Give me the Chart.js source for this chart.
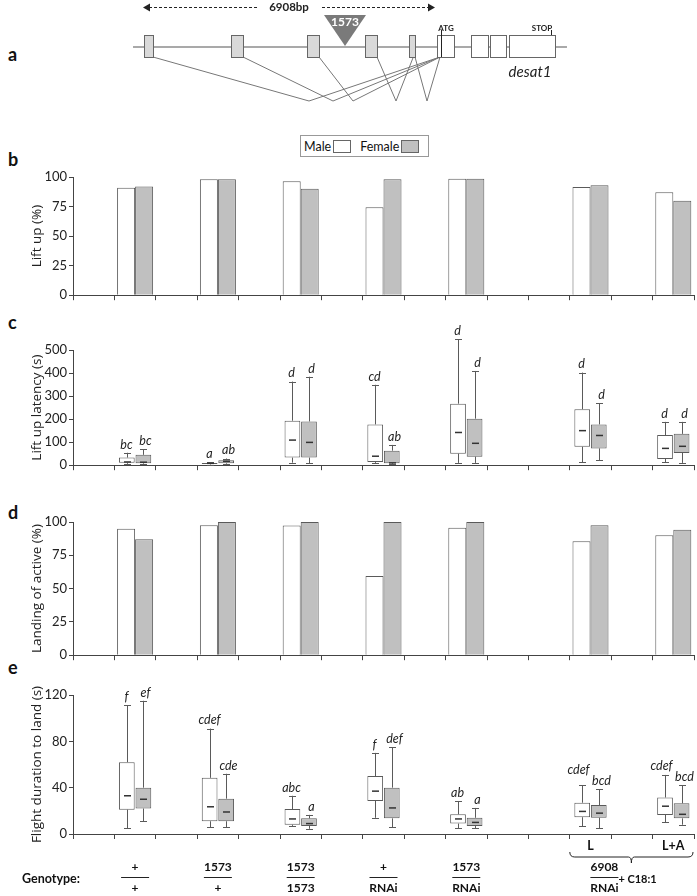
<!DOCTYPE html>
<html>
<head>
<meta charset="utf-8">
<script src="https://cdn.jsdelivr.net/npm/chart.js@4.4.1/dist/chart.umd.min.js"></script>
<style>
  body { margin: 0; background: #fff; }
  #wrap { position: relative; width: 697px; height: 896px; overflow: hidden; font-family: Lato, "Open Sans", sans-serif; color: #111; }
  #wrap canvas { position: absolute; left: 0; }
  .letter { position: absolute; font: bold 18px Lato, sans-serif; line-height: 20px; }
  #legend { position: absolute; left: 300px; top: 135px; width: 129px; height: 22px; border: 1px solid #999;
            font: 12.5px Lato, sans-serif; display: flex; align-items: center; box-sizing: border-box; padding-left: 3px; }
  #legend .sw { display: inline-block; width: 18px; height: 13px; border: 1px solid #666; margin-left: 2px; box-sizing: border-box; }
</style>
</head>
<body>
<div id="wrap">
  <div class="letter" style="left:8px;top:44px">a</div>
  <div class="letter" style="left:8px;top:149px">b</div>
  <div class="letter" style="left:8px;top:312px">c</div>
  <div class="letter" style="left:8px;top:502px">d</div>
  <div class="letter" style="left:8px;top:657px">e</div>
  <div id="legend">Male<span class="sw" style="background:#fff"></span><span style="margin-left:9px">Female</span><span class="sw" style="background:#c0c0c0"></span></div>
</div>
<script>
/* ---- data ---- */
// 15 category slots on the x axis, genotypes sit in these ones
const slotCount = 15;
const groupSlots = [1, 3, 5, 7, 9, 12, 14];
const genotypeTop = ["+", "1573", "1573", "+", "1573"];
const genotypeBottom = ["+", "+", "1573", "RNAi", "RNAi"];
const treatments = ["L", "L+A"];

// b: lift up (%)
const liftUpMale = [91, 98, 96.5, 74.5, 98.5, 91.5, 87];
const liftUpFemale = [92, 98, 90, 98, 98.5, 93, 80];

// c: lift up latency (s)  [min, q1, median, q3, max]
const latencyMale = [
  [6, 11, 14, 33, 54], [3, 5, 8, 10, 12], [11, 33, 109, 193, 363], [10, 14, 39, 177, 349],
  [10, 50, 142, 267, 546], [12, 80, 150, 243, 402], [12, 27, 73, 131, 188]
];
const latencyFemale = [
  [5, 8, 13, 45, 70], [5, 8, 17, 22, 29], [8, 33, 99, 190, 384], [5, 8, 10, 63, 88],
  [10, 37, 95, 202, 409], [22, 73, 129, 177, 270], [10, 53, 82, 136, 188]
];
const latencyMaleSig = ["bc", "a", "d", "cd", "d", "d", "d"];
const latencyFemaleSig = ["bc", "ab", "d", "ab", "d", "d", "d"];

// d: landing of active (%)
const landingMale = [95, 97.5, 97.3, 59.5, 95.6, 85.5, 90];
const landingFemale = [87, 100, 100, 100, 100, 97.6, 94.2];

// e: flight duration to land (s)  [min, q1, median, q3, max]
const flightMale = [
  [5, 21, 33, 62, 111], [6, 11, 23.5, 48.5, 91], [7, 8, 13, 21.5, 33], [14, 28.5, 37, 50, 70],
  [5, 9, 13, 17, 28.5], [6.5, 14.5, 19.5, 27, 42], [10, 16.5, 24, 31.5, 51]
];
const flightFemale = [
  [11, 22, 30, 40, 115], [6, 11, 19, 30.5, 52], [4.5, 7, 9, 13.5, 16.5], [6, 13.5, 22.5, 40, 75],
  [5, 7, 10, 14, 22.5], [5, 14, 18, 25, 38.5], [8, 13.5, 17, 26.5, 42]
];
const flightMaleSig = ["f", "cdef", "abc", "f", "ab", "cdef", "cdef"];
const flightFemaleSig = ["ef", "cde", "a", "def", "a", "bcd", "bcd"];

// a: gene model, positions in bp
const geneSpan = [0, 10268];
const nonCodingExons = [[260, 473], [2319, 2603], [4117, 4401], [5489, 5773], [6530, 6672]];
const codingExons = [[7193, 7595], [7997, 8399], [8447, 8825], [8896, 9985]];
const spliceDonor = [473, 2603, 4401, 5773, 6672];
const spliceLow = [4164, 4732, 5205, 6223, 6956];
const spliceAcceptor = [7264, 7264, 7264, 6632, 7264];
const deletionRange = [237, 7145];
const insertionAt = 5016;
const atgAt = 7287;
const stopAt = 9890;

/* ---- setup ---- */
Chart.defaults.font.family = "Lato, 'Open Sans', sans-serif";
Chart.defaults.color = "#222";
Chart.defaults.animation = false;
Chart.defaults.plugins.legend.display = false;
Chart.defaults.plugins.tooltip.enabled = false;

const MALE = "#ffffff";
const FEMALE = "#c0c0c0";
const EDGE = "#5a5a5a";

const slotLabels = Array.from({ length: slotCount }, (_, i) => {
  const g = groupSlots.indexOf(i);
  return g < 0 ? "" : "g" + g;
});
const toSlots = (values) => {
  const out = new Array(slotCount).fill(null);
  groupSlots.forEach((s, i) => (out[s] = values[i]));
  return out;
};

const makeCanvas = (id, top, height) => {
  const c = document.createElement("canvas");
  c.id = id;
  c.width = 697;
  c.height = height;
  c.style.top = top + "px";
  c.style.width = "697px";
  c.style.height = height + "px";
  document.getElementById("wrap").appendChild(c);
  return c;
};

const axisScales = (xHeight, yMax, yStep, title) => ({
  x: {
    offset: true,
    grid: { display: true, drawOnChartArea: false, drawTicks: true, tickLength: 5, color: "#444", offset: true },
    border: { color: "#444" },
    ticks: { display: false },
    afterFit: (s) => { s.height = xHeight; },
  },
  y: {
    min: 0,
    max: yMax,
    grid: { display: true, drawOnChartArea: false, drawTicks: true, tickLength: 4, color: "#444" },
    border: { color: "#444" },
    ticks: { stepSize: yStep, padding: 2, font: { size: 13 }, color: "#222" },
    title: { display: true, text: title, font: { family: "'Open Sans', sans-serif", size: 13.5 }, color: "#222", padding: { top: 29, bottom: 0 } },
    afterFit: (s) => { s.width = 73; },
  },
});

/* box plot whiskers, medians and letters on top of the floating bars */
const boxWhiskers = {
  id: "boxWhiskers",
  afterDatasetsDraw(chart) {
    const ctx = chart.ctx;
    const y = chart.scales.y;
    const labels = [];
    chart.data.datasets.forEach((ds, di) => {
      const meta = chart.getDatasetMeta(di);
      meta.data.forEach((bar, j) => {
        const st = ds.stats[j];
        if (!st) return;
        const [mn, q1, md, q3, mx] = st;
        const x = Math.round(bar.x) + 0.5;
        ctx.save();
        ctx.strokeStyle = EDGE;
        ctx.lineWidth = 1;
        ctx.beginPath();
        ctx.moveTo(x, y.getPixelForValue(q3));
        ctx.lineTo(x, y.getPixelForValue(mx));
        ctx.moveTo(x, y.getPixelForValue(q1));
        ctx.lineTo(x, y.getPixelForValue(mn));
        ctx.moveTo(x - 3.5, Math.round(y.getPixelForValue(mx)) + 0.5);
        ctx.lineTo(x + 3.5, Math.round(y.getPixelForValue(mx)) + 0.5);
        ctx.moveTo(x - 3.5, Math.round(y.getPixelForValue(mn)) + 0.5);
        ctx.lineTo(x + 3.5, Math.round(y.getPixelForValue(mn)) + 0.5);
        ctx.stroke();
        ctx.strokeStyle = "#333";
        ctx.lineWidth = 1.5;
        ctx.beginPath();
        ctx.moveTo(x - 3.5, y.getPixelForValue(md));
        ctx.lineTo(x + 3.5, y.getPixelForValue(md));
        ctx.stroke();
        ctx.restore();
        labels[j] = labels[j] || [];
        labels[j][di] = { text: ds.sig[j], x: x + (di === 0 ? -1 : 2), y: y.getPixelForValue(mx) - 2 };
      });
    });
    ctx.save();
    ctx.fillStyle = "#222";
    ctx.font = "italic 12.5px Lato, sans-serif";
    ctx.textAlign = "center";
    ctx.textBaseline = "bottom";
    labels.forEach((pair) => {
      if (!pair) return;
      const [m, f] = pair;
      const wm = ctx.measureText(m.text).width;
      const wf = ctx.measureText(f.text).width;
      // keep the male letters clear of the female ones
      if (m.x + wm / 2 > f.x - wf / 2 - 1 && Math.abs(m.y - f.y) < 12) {
        m.y = Math.min(m.y, f.y - 11);
        m.x -= 3;
      }
      ctx.fillText(m.text, m.x, m.y);
      ctx.fillText(f.text, f.x, f.y);
    });
    ctx.restore();
  },
};

const barPanel = (id, top, height, areaTop, areaBottom, male, female, yMax, yStep, title) => {
  new Chart(makeCanvas(id, top, height), {
    type: "bar",
    data: {
      labels: slotLabels,
      datasets: [
        { data: toSlots(male), backgroundColor: MALE, borderColor: EDGE, borderWidth: 1, categoryPercentage: 0.87, barPercentage: 1 },
        { data: toSlots(female), backgroundColor: FEMALE, borderColor: EDGE, borderWidth: 1, categoryPercentage: 0.87, barPercentage: 1 },
      ],
    },
    options: {
      responsive: false,
      devicePixelRatio: 1,
      layout: { padding: { top: areaTop - top, right: 3, left: 0, bottom: 0 } },
      scales: axisScales(top + height - areaBottom, yMax, yStep, title),
    },
  });
};

const boxPanel = (id, top, height, areaTop, areaBottom, male, female, maleSig, femaleSig, yMax, yStep, title, extra) => {
  const boxDs = (stats, sig, color) => ({
    data: toSlots(stats.map((s) => [s[1], s[3]])),
    stats: toSlots(stats),
    sig: toSlots(sig),
    backgroundColor: color,
    borderColor: EDGE,
    borderWidth: 1,
    borderSkipped: false,
    categoryPercentage: 0.8,
    barPercentage: 0.95,
  });
  new Chart(makeCanvas(id, top, height), {
    type: "bar",
    data: {
      labels: slotLabels,
      datasets: [boxDs(male, maleSig, MALE), boxDs(female, femaleSig, FEMALE)],
    },
    options: {
      responsive: false,
      devicePixelRatio: 1,
      layout: { padding: { top: areaTop - top, right: 3, left: 0, bottom: 0 } },
      scales: axisScales(top + height - areaBottom, yMax, yStep, title),
    },
    plugins: extra ? [boxWhiskers, extra] : [boxWhiskers],
  });
};

/* genotype labels under panel e, placed from the x scale */
const genotypeRow = {
  id: "genotypeRow",
  afterDraw(chart) {
    const ctx = chart.ctx;
    const x = chart.scales.x;
    const base = chart.chartArea.bottom; // y of the x axis
    ctx.save();
    ctx.fillStyle = "#111";
    ctx.strokeStyle = "#222";
    ctx.lineWidth = 1;
    ctx.font = "bold 12.5px Lato, sans-serif";
    ctx.textBaseline = "middle";
    ctx.textAlign = "left";
    ctx.fillText("Genotype:", 22, base + 45);
    ctx.font = "bold 12px Lato, sans-serif";
    ctx.textAlign = "center";
    const fraction = (cx, top, bottom) => {
      ctx.fillText(top, cx, base + 33);
      ctx.beginPath();
      ctx.moveTo(cx - 14, base + 43.5);
      ctx.lineTo(cx + 14, base + 43.5);
      ctx.stroke();
      ctx.fillText(bottom, cx, base + 54);
    };
    genotypeTop.forEach((t, i) => fraction(x.getPixelForValue(groupSlots[i]), t, genotypeBottom[i]));
    // fed groups share one genotype
    const left = x.getPixelForValue(groupSlots[5]) - x.width / slotCount / 2;
    const right = x.getPixelForValue(groupSlots[6]) + x.width / slotCount / 2 - 1;
    const mid = (left + right) / 2;
    fraction(mid - 27, "6908", "RNAi");
    ctx.textAlign = "left";
    ctx.font = "bold 11px Lato, sans-serif";
    ctx.fillText("+ C18:1", mid - 13, base + 45);
    ctx.textAlign = "center";
    ctx.font = "bold 12.5px Lato, sans-serif";
    treatments.forEach((t, i) => ctx.fillText(t, x.getPixelForValue(groupSlots[5 + i]), base + 12));
    ctx.beginPath();
    ctx.moveTo(left, base + 18);
    ctx.quadraticCurveTo(left, base + 23, left + 5, base + 23);
    ctx.lineTo(mid - 3, base + 23);
    ctx.quadraticCurveTo(mid, base + 23, mid, base + 29);
    ctx.quadraticCurveTo(mid, base + 23, mid + 3, base + 23);
    ctx.lineTo(right - 5, base + 23);
    ctx.quadraticCurveTo(right, base + 23, right, base + 18);
    ctx.stroke();
    ctx.restore();
  },
};

/* panel a: gene model drawn on linear bp / row scales */
const geneModel = {
  id: "geneModel",
  afterDatasetsDraw(chart) {
    const ctx = chart.ctx;
    const x = (v) => chart.scales.x.getPixelForValue(v);
    const y = (v) => chart.scales.y.getPixelForValue(v);
    ctx.save();
    ctx.lineWidth = 1;
    ctx.strokeStyle = "#666";
    const exon = (e, fill) => {
      ctx.fillStyle = fill;
      ctx.fillRect(x(e[0]), y(35), x(e[1]) - x(e[0]), y(57) - y(35));
      ctx.strokeRect(Math.round(x(e[0])) + 0.5, y(35) + 0.5, Math.round(x(e[1]) - x(e[0])), y(57) - y(35));
    };
    nonCodingExons.forEach((e) => exon(e, "#d9d9d9"));
    codingExons.forEach((e) => exon(e, "#ffffff"));
    // ATG / STOP ticks
    ctx.strokeStyle = "#222";
    ctx.beginPath();
    ctx.moveTo(Math.round(x(atgAt)) + 0.5, y(30));
    ctx.lineTo(Math.round(x(atgAt)) + 0.5, y(57));
    ctx.moveTo(Math.round(x(stopAt)) + 0.5, y(30));
    ctx.lineTo(Math.round(x(stopAt)) + 0.5, y(35));
    ctx.stroke();
    ctx.fillStyle = "#222";
    ctx.font = "bold 8px Lato, sans-serif";
    ctx.textAlign = "center";
    ctx.textBaseline = "bottom";
    ctx.fillText("ATG", x(atgAt) + 5, y(32));
    ctx.fillText("STOP", x(stopAt) - 9, y(32));
    // insertion triangle
    ctx.fillStyle = "#7a7a7a";
    ctx.beginPath();
    ctx.moveTo(x(insertionAt) - 21, y(15));
    ctx.lineTo(x(insertionAt) + 21, y(15));
    ctx.lineTo(x(insertionAt), y(46));
    ctx.closePath();
    ctx.fill();
    ctx.fillStyle = "#fff";
    ctx.font = "bold 12px Lato, sans-serif";
    ctx.textBaseline = "middle";
    ctx.fillText("1573", x(insertionAt), y(22));
    // dashed deletion arrow
    const ay = Math.round(y(7)) + 0.5;
    const cx = (x(deletionRange[0]) + x(deletionRange[1])) / 2;
    ctx.strokeStyle = "#222";
    ctx.setLineDash([3, 2]);
    ctx.beginPath();
    ctx.moveTo(x(deletionRange[0]) + 6, ay);
    ctx.lineTo(cx - 30, ay);
    ctx.moveTo(cx + 33, ay);
    ctx.lineTo(x(deletionRange[1]) - 6, ay);
    ctx.stroke();
    ctx.setLineDash([]);
    ctx.fillStyle = "#222";
    [[deletionRange[0], 1], [deletionRange[1], -1]].forEach(([v, d]) => {
      ctx.beginPath();
      ctx.moveTo(x(v), ay);
      ctx.lineTo(x(v) + 7 * d, ay - 4);
      ctx.lineTo(x(v) + 7 * d, ay + 4);
      ctx.closePath();
      ctx.fill();
    });
    ctx.font = "bold 11.5px Lato, sans-serif";
    ctx.fillText("6908bp", cx, ay);
    ctx.font = "italic 15px Lato, sans-serif";
    ctx.fillText("desat1", x(9393), y(72));
    ctx.restore();
  },
};

/* ---- panel a ---- */
const spliceSets = spliceDonor.map((d, i) => ({
  data: [{ x: d, y: 57 }, { x: spliceLow[i], y: 101 }, { x: spliceAcceptor[i], y: 57 }],
  showLine: true, borderColor: "#777", borderWidth: 1, pointRadius: 0,
}));
new Chart(makeCanvas("geneCanvas", 0, 112), {
  type: "scatter",
  data: {
    datasets: [
      { data: [{ x: geneSpan[0], y: 47 }, { x: geneSpan[1], y: 47 }], showLine: true, borderColor: "#555", borderWidth: 1.2, pointRadius: 0 },
      ...spliceSets,
    ],
  },
  options: {
    responsive: false,
    devicePixelRatio: 1,
    layout: { padding: 0 },
    scales: {
      x: { type: "linear", min: -3147, max: 13344, display: false },
      y: { type: "linear", min: 0, max: 112, reverse: true, display: false },
    },
  },
  plugins: [geneModel],
});

/* ---- panels b-e ---- */
barPanel("liftUpCanvas", 160, 145, 177, 297, liftUpMale, liftUpFemale, 100, 25, "Lift up (%)");
boxPanel("latencyCanvas", 315, 160, 350, 470, latencyMale, latencyFemale, latencyMaleSig, latencyFemaleSig, 500, 100, "Lift up latency (s)");
barPanel("landingCanvas", 505, 160, 522, 660, landingMale, landingFemale, 100, 25, "Landing of active (%)");
boxPanel("flightCanvas", 670, 226, 695, 834, flightMale, flightFemale, flightMaleSig, flightFemaleSig, 120, 40, "Flight duration to land (s)", genotypeRow);
</script>
</body>
</html>
